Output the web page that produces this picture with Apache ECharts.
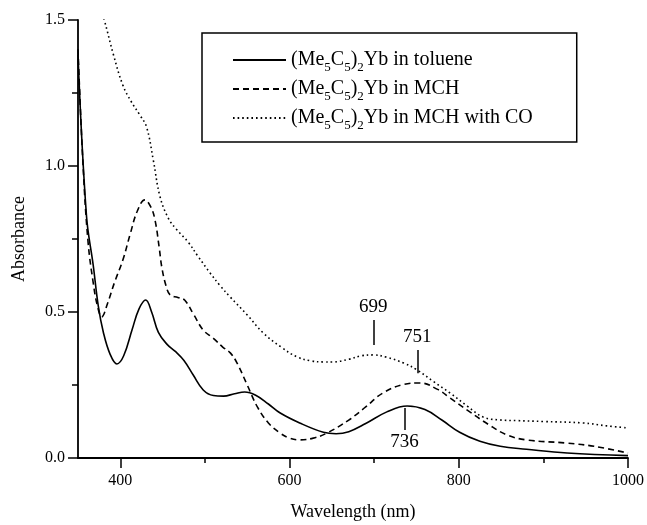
<!DOCTYPE html>
<html>
<head>
<meta charset="utf-8">
<script src="https://cdn.jsdelivr.net/npm/echarts@6/dist/echarts.min.js"></script>
<style>
 html, body { margin: 0; padding: 0; background: #fff; }
 #main { width: 647px; height: 525px; }
</style>
</head>
<body>
<div id="main"></div>
<script>
/** 数据 **/
var tolueneNm = [350, 360, 368, 374, 380, 388, 396, 404, 414, 422, 430, 437, 445, 455, 465, 475, 486, 498, 510, 522, 535, 547, 560, 575, 589, 612, 640, 655, 670, 690, 715, 739, 760, 780, 801, 825, 849, 880, 928, 1000];
var tolueneAbs = [1.38, 0.83, 0.66, 0.52, 0.43, 0.355, 0.322, 0.35, 0.44, 0.51, 0.541, 0.5, 0.43, 0.39, 0.365, 0.335, 0.285, 0.233, 0.214, 0.212, 0.22, 0.226, 0.215, 0.185, 0.154, 0.12, 0.088, 0.083, 0.09, 0.118, 0.158, 0.178, 0.166, 0.13, 0.088, 0.057, 0.04, 0.03, 0.017, 0.008];

var mchNm = [350, 356, 362, 368, 373, 378, 385, 393, 403, 412, 420, 429, 436, 441, 446, 449, 454, 459, 468, 476, 487, 498, 510, 521, 530, 538, 550, 562, 575, 589, 600, 612, 628, 644, 670, 690, 710, 735, 754, 775, 790, 810, 835, 857, 880, 928, 960, 1000];
var mchAbs = [1.40, 1.0, 0.736, 0.6, 0.52, 0.483, 0.53, 0.6, 0.678, 0.77, 0.845, 0.884, 0.86, 0.815, 0.72, 0.654, 0.59, 0.558, 0.55, 0.541, 0.49, 0.438, 0.41, 0.38, 0.36, 0.325, 0.25, 0.175, 0.12, 0.085, 0.068, 0.062, 0.068, 0.085, 0.13, 0.175, 0.222, 0.252, 0.257, 0.235, 0.205, 0.164, 0.115, 0.079, 0.062, 0.051, 0.04, 0.017];

var coNm = [378, 381, 392, 403, 413, 423, 431, 439, 447, 457, 467, 480, 492, 506, 518, 530, 550, 569, 590, 609, 625, 640, 651, 670, 685, 699, 715, 735, 751, 770, 790, 810, 829, 850, 869, 900, 947, 975, 1000];
var coAbs = [1.52, 1.50, 1.38, 1.277, 1.22, 1.175, 1.134, 1.02, 0.894, 0.82, 0.781, 0.74, 0.69, 0.634, 0.59, 0.551, 0.49, 0.428, 0.38, 0.346, 0.333, 0.329, 0.329, 0.338, 0.35, 0.353, 0.345, 0.325, 0.301, 0.262, 0.222, 0.178, 0.14, 0.13, 0.128, 0.125, 0.12, 0.11, 0.103];

var names = ['toluene', 'MCH', 'MCH with CO'];
var xLabels = [400, 600, 800, 1000];
var xMinor = [500, 700, 900];

// 峰标注: [波长, 线起点, 线终点]
var peakCO = [699, 0.387, 0.473];
var peakMCH = [751, 0.29, 0.37];
var peakTol = [736, 0.171, 0.096];

function zip(xs, ys) {
 return xs.map(function(x, i) { return [x, ys[i]]; });
}

var font = 'Liberation Serif';

function peak(p) {
 return {
  silent: true,
  symbol: ['none', 'none'],
  lineStyle: { color: '#000', width: 1.5, type: 'solid' },
  label: {
   show: true,
   position: 'end',
   distance: 3,
   formatter: String(p[0]),
   color: '#000',
   fontFamily: font,
   fontSize: 19
  },
  data: [[{ coord: [p[0], p[1]] }, { coord: [p[0], p[2]] }]]
 };
}

var chart = echarts.init(document.getElementById('main'));

var option = {
 animation: false,
 backgroundColor: '#fff',
 grid: { left: 78, right: 19, top: 20, bottom: 67, outerBoundsMode: 'none', containLabel: false },
 legend: {
  orient: 'vertical',
  left: 202,
  top: 33,
  padding: [13, 44, 10, 30],
  itemGap: 1,
  itemWidth: 53,
  itemHeight: 14,
  borderColor: '#000',
  borderWidth: 1.5,
  itemStyle: { opacity: 0, color: 'rgba(0,0,0,0)', borderWidth: 0 },
  data: names,
  formatter: function(name) {
   return '{n|(Me}{s|5}{n|C}{s|5}{n|)}{s|2}{n|Yb in ' + name + '}';
  },
  textStyle: {
   color: '#000',
   fontFamily: font,
   fontSize: 20,
   lineHeight: 28,
   rich: {
    n: { fontFamily: font, fontSize: 20, color: '#000', lineHeight: 28, verticalAlign: 'middle' },
    s: { fontFamily: font, fontSize: 13, color: '#000', lineHeight: 13, verticalAlign: 'bottom' }
   }
  }
 },
 xAxis: [
  {
   type: 'value',
   min: 350,
   max: 1000,
   name: 'Wavelength (nm)',
   nameLocation: 'middle',
   nameGap: 45,
   nameTextStyle: { fontFamily: font, fontSize: 18, color: '#000' },
   axisLine: { show: true, lineStyle: { color: '#000', width: 1.8 } },
   axisTick: { show: true, customValues: xLabels, length: 10, lineStyle: { color: '#000', width: 1.5 } },
   axisLabel: {
    customValues: xLabels,
    margin: 15,
    fontFamily: font,
    fontSize: 16,
    color: '#000',
    formatter: function(v) { return String(v); }
   },
   splitLine: { show: false }
  },
  {
   type: 'value',
   min: 350,
   max: 1000,
   position: 'bottom',
   axisLine: { show: false },
   axisTick: { show: true, inside: false, customValues: xMinor, length: 5, lineStyle: { color: '#000', width: 1.5 } },
   axisLabel: { show: false },
   splitLine: { show: false }
  }
 ],
 yAxis: {
  type: 'value',
  min: 0,
  max: 1.5,
  interval: 0.5,
  name: 'Absorbance',
  nameLocation: 'middle',
  nameGap: 50,
  nameTextStyle: { fontFamily: font, fontSize: 18, color: '#000' },
  axisLine: { show: true, lineStyle: { color: '#000', width: 1.8 } },
  axisTick: { show: true, length: 10, lineStyle: { color: '#000', width: 1.5 } },
  minorTick: { show: true, splitNumber: 2, length: 6, lineStyle: { color: '#000', width: 1.5 } },
  axisLabel: {
   margin: 13,
   fontFamily: font,
   fontSize: 16,
   color: '#000',
   formatter: function(v) { return v.toFixed(1); }
  },
  splitLine: { show: false }
 },
 series: [
  {
   name: names[0],
   type: 'line',
   smooth: 0.4,
   symbol: 'none',
   lineStyle: { color: '#000', width: 1.6, type: 'solid' },
   itemStyle: { color: '#000' },
   data: zip(tolueneNm, tolueneAbs),
   markLine: peak(peakTol)
  },
  {
   name: names[1],
   type: 'line',
   smooth: 0.4,
   symbol: 'none',
   lineStyle: { color: '#000', width: 1.6, type: [6, 4] },
   itemStyle: { color: '#000' },
   data: zip(mchNm, mchAbs),
   markLine: peak(peakMCH)
  },
  {
   name: names[2],
   type: 'line',
   smooth: 0.4,
   symbol: 'none',
   lineStyle: { color: '#000', width: 1.6, type: [1.6, 3] },
   itemStyle: { color: '#000' },
   data: zip(coNm, coAbs),
   markLine: peak(peakCO)
  }
 ]
};

chart.setOption(option);
</script>
</body>
</html>
